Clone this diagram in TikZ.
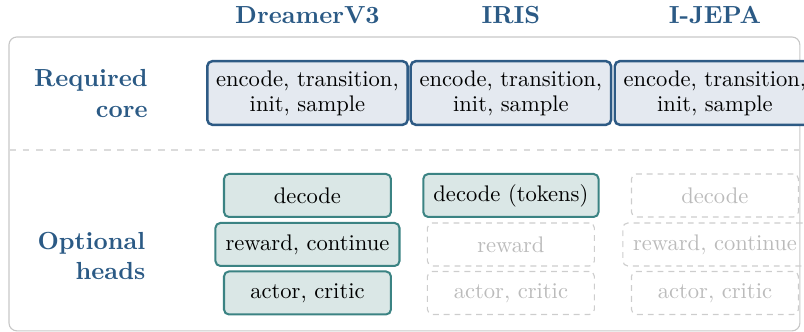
\documentclass[tikz,border=0pt,11pt]{standalone}
\usetikzlibrary{positioning}
\definecolor{ttlc}{HTML}{2B5A85}
\definecolor{corefill}{HTML}{E4E9F0}
\definecolor{coreline}{HTML}{2D5A84}
\definecolor{headfill}{HTML}{DAE7E6}
\definecolor{headline}{HTML}{3B8383}
\definecolor{offline}{HTML}{CDCDCD}
\definecolor{offtext}{HTML}{BBBBBB}
\tikzset{
  frame/.style={draw=black!22, line width=0.5pt, rounded corners=3.5pt},
  sep/.style={draw=black!14, line width=0.5pt, dash pattern=on 3pt off 3pt},
  colhd/.style={font=\bfseries, text=ttlc, inner sep=1pt},
  rowhd/.style={font=\bfseries, text=ttlc, align=right, anchor=east, inner sep=0pt},
  core/.style={draw=coreline, fill=corefill, line width=1.1pt, rounded corners=2.2pt,
               align=center, font=\small, minimum width=3.12cm, minimum height=0.99cm,
               inner xsep=2pt, inner ysep=1pt},
  head/.style={draw=headline, fill=headfill, line width=0.9pt, rounded corners=2.2pt,
               font=\small, minimum width=2.6cm, minimum height=0.67cm, inner xsep=4.5pt},
  nohead/.style={head, draw=offline, fill=none, text=offtext, line width=0.5pt,
                 dash pattern=on 2.6pt off 2.2pt},
}
\begin{document}
\begin{tikzpicture}[x=1cm, y=1cm]
\clip (0,0) rectangle (12.52,5.169);
\draw[frame] (0.14,0.016) rectangle (12.456,4.593);
\draw[sep] (0.14,2.834) -- (12.456,2.834);

% ---------------- column heads ----------------
\node[colhd] (hdreamer) at (4.788,4.936) {DreamerV3};
\node[colhd] (hiris) at (7.956,4.936) {IRIS};
\node[colhd] (hjepa) at (11.133,4.936) {I-JEPA};

% ---------------- row heads ----------------
\node[rowhd] (rcore) at (2.305,3.713) {Required\\core};
\node[rowhd] (ropt) at (2.27,1.183) {Optional\\heads};

% ---------------- the core, the same for all three ----------------
\node[core] (cdreamer) at (4.788,3.721) {encode, transition,\\[-1pt]init, sample};
\node[core] (ciris) at (7.956,3.721) {encode, transition,\\[-1pt]init, sample};
\node[core] (cjepa) at (11.133,3.721) {encode, transition,\\[-1pt]init, sample};

% ---------------- the heads ----------------
\node[head] (ddecode) at (4.788,2.125) {decode};
\node[head] (dreward) at (4.788,1.362) {reward, continue};
\node[head] (dactor) at (4.788,0.607) {actor, critic};

\node[head] (idecode) at (7.956,2.125) {decode (tokens)};
\node[nohead] (ireward) at (7.956,1.362) {reward};
\node[nohead] (iactor) at (7.956,0.607) {actor, critic};

\node[nohead] (jdecode) at (11.133,2.125) {decode};
\node[nohead] (jreward) at (11.133,1.362) {reward, continue};
\node[nohead] (jactor) at (11.133,0.607) {actor, critic};
\end{tikzpicture}
\end{document}
